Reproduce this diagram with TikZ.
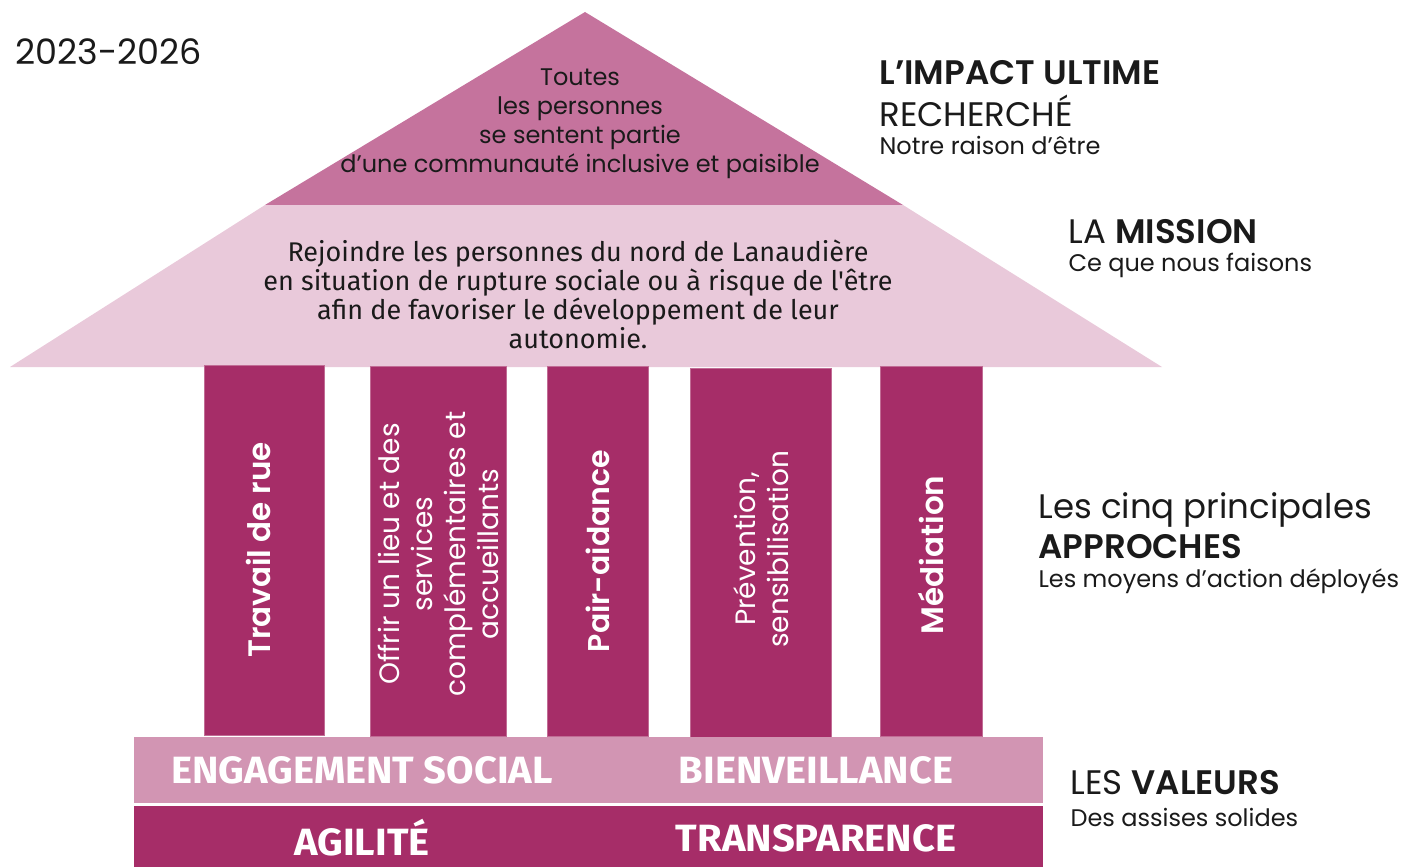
\documentclass[tikz,border=0pt]{standalone}
\usepackage{fontspec}
\setmainfont{Poppins}[BoldFont={Poppins SemiBold}]
\newfontfamily\etroit{Fira Sans}
\newfontfamily\etroitgras[FakeStretch=1.05]{Fira Sans Bold}
\usetikzlibrary{positioning}
\definecolor{toit}{HTML}{C5739D}
\definecolor{mission}{HTML}{E9C9DA}
\definecolor{pilier}{HTML}{A62D68}
\definecolor{valclair}{HTML}{D295B3}
\definecolor{encre}{HTML}{1A1A1A}
\tikzset{
  pillar/.style={fill=pilier, draw=pilier!70!white, line width=0.8pt, minimum height=370, inner sep=0pt},
  pillartext/.style={text=white, rotate=90, align=center},
  sidehead/.style={anchor=west, text=encre, font=\fontsize{34}{38}\selectfont},
  sidesub/.style={anchor=west, text=encre, font=\fontsize{24}{28}\selectfont},
  valeur/.style={text=white, font=\etroitgras\fontsize{38}{42}\selectfont}
}

\begin{document}
\begin{tikzpicture}[x=1pt,y=-1pt]
\useasboundingbox (0,0) rectangle (1403,867);
% le toit
\fill[toit] (585,12) -- (903,205) -- (265,205) -- cycle;
\fill[mission] (265,205) -- (903,205) -- (1162,367) -- (10,367) -- cycle;
\node[text=encre, align=center, font=\fontsize{24}{29}\selectfont] (impact) at (580,124)
  {Toutes\\les personnes\\se sentent partie\\d'une communauté inclusive et paisible};
\node[text=encre, align=center, font=\etroit\fontsize{27}{29}\selectfont] (but) at (578,294)
  {Rejoindre les personnes du nord de Lanaudière\\en situation de rupture sociale ou à risque de l'être\\afin de favoriser le développement de leur\\autonomie.};
% les piliers
\node[pillar, minimum width=120] (p1) at (264,550) {};
\node[pillar, minimum width=136] (p2) at (438,551) {};
\node[pillar, minimum width=101] (p3) at (598,551) {};
\node[pillar, minimum width=141] (p4) at (761,553) {};
\node[pillar, minimum width=102] (p5) at (931,551) {};
\node[pillartext, font=\bfseries\fontsize{31}{33}\selectfont] at ([xshift=-6]p1.center) {Travail de rue};
\node[pillartext, font=\fontsize{28}{33}\selectfont] at ([yshift=-3]p2.center)
  {Offrir un lieu et des\\services\\complémentaires et\\accueillants};
\node[pillartext, font=\bfseries\fontsize{30}{33}\selectfont] at (p3) {Pair-aidance};
\node[pillartext, font=\fontsize{28}{33}\selectfont] at ([yshift=4]p4.center)
  {Prévention,\\sensibilisation};
\node[pillartext, font=\bfseries\fontsize{31}{33}\selectfont] at ([yshift=-4]p5.center) {Médiation};
% les valeurs
\fill[valclair] (134,737) rectangle (1043,803);
\fill[pilier] (134,806) rectangle (1043,867);
\node[valeur] (v1) at (362,770) {ENGAGEMENT SOCIAL};
\node[valeur] (v2) at (816,770) {BIENVEILLANCE};
\node[valeur] (v3) at (362,838) {AGILITÉ};
\node[valeur] (v4) at (816,838) {TRANSPARENCE};
% les legendes
\node[anchor=west, text=encre, font=\fontsize{35}{38}\selectfont] (annee) at (12,52) {2023-2026};
\node[sidehead] (l1) at (876,73) {\bfseries L'IMPACT ULTIME};
\node[sidehead] (l1b) at (876,111) {RECHERCHÉ};
\node[sidesub] (l1c) at (876,145) {Notre raison d'être};
\node[sidehead] (l2) at (1065,232) {LA \bfseries MISSION};
\node[sidesub] (l2b) at (1065,265) {Ce que nous faisons};
\node[sidehead] (l3) at (1035,510) {Les cinq principales};
\node[sidehead] (l3b) at (1035,547) {\bfseries APPROCHES};
\node[sidesub] (l3c) at (1035,581) {Les moyens d'action déployés};
\node[sidehead] (l4) at (1067,783) {LES \bfseries VALEURS};
\node[sidesub] (l4b) at (1067,817) {Des assises solides};
\end{tikzpicture}
\end{document}
